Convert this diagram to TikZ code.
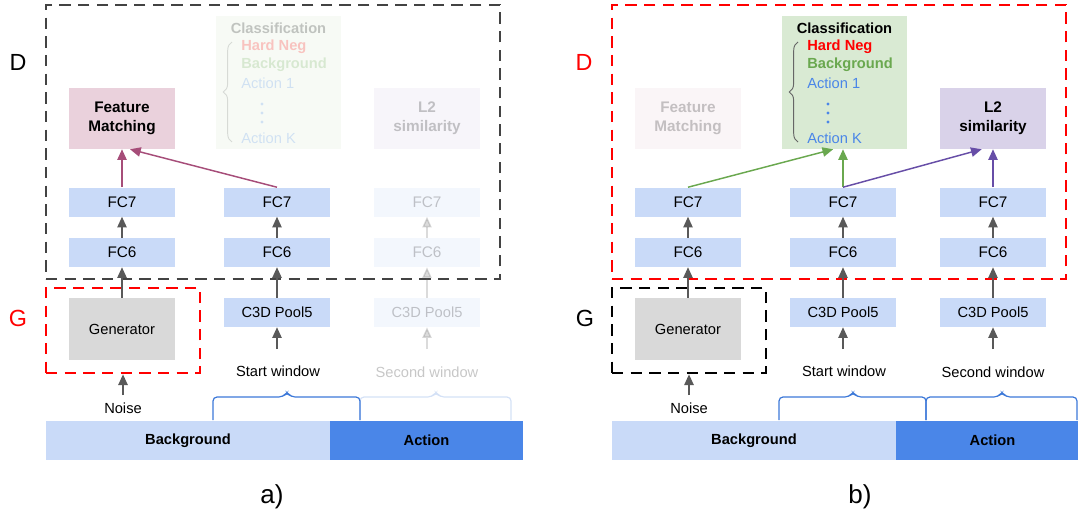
\documentclass[tikz,border=0pt]{standalone}
\usepackage{fontspec}
\setmainfont{Liberation Sans}
\usetikzlibrary{arrows.meta,decorations.pathreplacing}
\definecolor{fcblue}{HTML}{C9DAF8}
\definecolor{fmpink}{HTML}{EAD1DC}
\definecolor{fmarrow}{HTML}{A64D79}
\definecolor{clsgreen}{HTML}{D9EAD3}
\definecolor{grnarrow}{HTML}{6AA84F}
\definecolor{l2purple}{HTML}{D9D2E9}
\definecolor{purarrow}{HTML}{674EA7}
\definecolor{gengray}{HTML}{D9D9D9}
\definecolor{actblue}{HTML}{4A86E8}
\definecolor{txtblue}{HTML}{4A86E8}
\definecolor{bracecol}{HTML}{3C78D8}
\definecolor{arrgray}{HTML}{595959}
\definecolor{dashgray}{HTML}{434343}
\definecolor{hardred}{HTML}{FF0000}
\begin{document}
\begin{tikzpicture}[x=0.75pt,y=-0.75pt,
  box/.style={inner sep=0pt, align=center, text=black},
  fcbox/.style={box, fill=fcblue, minimum width=79.5pt, minimum height=21.75pt, font=\fontsize{11.5}{13}\selectfont},
  poolbox/.style={fcbox, font=\fontsize{11}{12}\selectfont},
  genbox/.style={box, fill=gengray, minimum width=79.5pt, minimum height=46.5pt, font=\fontsize{11}{12}\selectfont},
  headbox/.style={box, minimum width=79.5pt, minimum height=45.75pt, font=\bfseries\fontsize{11.5}{14.5}\selectfont},
  clsbox/.style={box, fill=clsgreen, minimum width=93.75pt, minimum height=99.75pt},
  bar/.style={box, minimum height=29.25pt, font=\bfseries\fontsize{11}{13}\selectfont},
  lbl/.style={inner sep=0pt, font=\fontsize{11}{12}\selectfont},
  big/.style={inner sep=0pt, font=\fontsize{17.5}{20}\selectfont},
  clstitle/.style={inner sep=0pt, font=\bfseries\fontsize{11}{13}\selectfont},
  clsitem/.style={inner sep=0pt, anchor=west, font=\fontsize{11}{13}\selectfont, text=txtblue},
  faded/.style={opacity=0.22},
  garrow/.style={draw=arrgray, line width=1.1pt, -{Triangle[length=8pt,width=7pt]}},
  carrow/.style={line width=1.1pt, -{Triangle[length=8pt,width=7pt]}},
  dboxD/.style={inner sep=0pt, line width=2pt, dash pattern=on 8.5pt off 5.5pt, minimum width=340.5pt, minimum height=205.5pt},
  dboxG/.style={inner sep=0pt, line width=2pt, dash pattern=on 8.5pt off 5.5pt, minimum width=115.5pt, minimum height=63.75pt},
  wbrace/.style={draw=bracecol, line width=0.9pt, rounded corners=3pt},
  cbrace/.style={draw=black!60, line width=0.7pt, decorate, decoration={brace, amplitude=6.5pt}},
  vdot/.style={circle, fill=txtblue, inner sep=0pt, minimum size=2.4pt},
]
\useasboundingbox (0,0) rectangle (1078,517);
\clip (0,0) rectangle (1078,517);

% ================= Panel a =================
\node[dboxD, draw=dashgray] (aD) at (273,142) {};
\node[dboxG, draw=hardred] (aG) at (123,330.5) {};
\node[big] (aDl) at (18,62) {D};
\node[big, text=hardred] (aGl) at (18,318) {G};

\node[clsbox, faded] (acls) at (278.5,82.5) {};
\node[clstitle, faded] (actitle) at (278.5,28) {Classification};
\node[clsitem, faded, text=hardred, font=\bfseries\fontsize{11}{13}\selectfont] (ac1) at (241,47) {Hard Neg};
\node[clsitem, faded, text=grnarrow, font=\bfseries\fontsize{11}{13}\selectfont] (ac2) at (241,65) {Background};
\node[clsitem, faded] (ac3) at (241,83) {Action 1};
\node[vdot, faded] (ad1) at (262,104) {};
\node[vdot, faded] (ad2) at (262,113) {};
\node[vdot, faded] (ad3) at (262,122) {};
\node[clsitem, faded] (ac4) at (241,138) {Action K};
\draw[cbrace, faded] (232,142) -- (232,42);

\node[headbox, fill=fmpink] (afm) at (122,118.5) {Feature\\Matching};
\node[headbox, fill=l2purple, faded] (al2) at (427,118.5) {L2\\similarity};

\node[fcbox] (a7l) at (122,202) {FC7};
\node[fcbox] (a7m) at (277,202) {FC7};
\node[fcbox, faded] (a7r) at (427,202) {FC7};
\node[fcbox] (a6l) at (122,252.5) {FC6};
\node[fcbox] (a6m) at (277,252.5) {FC6};
\node[fcbox, faded] (a6r) at (427,252.5) {FC6};
\node[genbox] (agen) at (122,329) {Generator};
\node[poolbox] (apm) at (277,312.5) {C3D Pool5};
\node[poolbox, faded] (apr) at (427,312.5) {C3D Pool5};

\node[lbl] (asw) at (278,371) {Start window};
\node[lbl, faded] (asw2) at (427,372) {Second window};
\node[lbl] (anoise) at (123,408) {Noise};
\coordinate (aswin) at (277,349);
\coordinate (asw2in) at (427,349);
\coordinate (anoin) at (123,395);

\node[bar, fill=fcblue, minimum width=213pt] (abg) at (188,440.5) {Background};
\node[bar, fill=actblue, minimum width=144.75pt] (aact) at (426.5,440.5) {Action};

\draw[wbrace] (213,420) -- (213,397) -- (283,397) -- (287,392) -- (291,397) -- (360,397) -- (360,420);
\draw[wbrace, faded] (360,420) -- (360,397) -- (432,397) -- (436,392) -- (440,397) -- (511,397) -- (511,420);

\draw[garrow] (a6l) -- (a7l);
\draw[garrow] (a6m) -- (a7m);
\draw[garrow, faded] (a6r) -- (a7r);
\draw[garrow] (agen) -- (a6l);
\draw[garrow] (apm) -- (a6m);
\draw[garrow, faded] (apr) -- (a6r);
\draw[garrow] (aswin) -- (apm);
\draw[garrow, faded] (asw2in) -- (apr);
\draw[garrow] (anoin) -- (aG.south);
\draw[carrow, draw=fmarrow] (a7l.north) -- (afm.south);
\draw[carrow, draw=fmarrow] (a7m.north) -- ([xshift=6pt]afm.south);

\node[big, font=\fontsize{19.5}{22}\selectfont] (alab) at (272,497) {a)};

% ================= Panel b =================
\node[dboxD, draw=hardred] (bD) at (839,142) {};
\node[dboxG, draw=black] (bG) at (689,330.5) {};
\node[big, text=hardred] (bDl) at (584,62) {D};
\node[big] (bGl) at (585,318) {G};

\node[clsbox] (bcls) at (844.5,82.5) {};
\node[clstitle] (bctitle) at (844.5,28) {Classification};
\node[clsitem, text=hardred, font=\bfseries\fontsize{11}{13}\selectfont] (bc1) at (807,47) {Hard Neg};
\node[clsitem, text=grnarrow, font=\bfseries\fontsize{11}{13}\selectfont] (bc2) at (807,65) {Background};
\node[clsitem] (bc3) at (807,83) {Action 1};
\node[vdot] (bd1) at (828,104) {};
\node[vdot] (bd2) at (828,113) {};
\node[vdot] (bd3) at (828,122) {};
\node[clsitem] (bc4) at (807,138) {Action K};
\draw[cbrace] (798,142) -- (798,42);

\node[headbox, fill=fmpink, faded] (bfm) at (688,118.5) {Feature\\Matching};
\node[headbox, fill=l2purple] (bl2) at (993,118.5) {L2\\similarity};

\node[fcbox] (b7l) at (688,202) {FC7};
\node[fcbox] (b7m) at (843,202) {FC7};
\node[fcbox] (b7r) at (993,202) {FC7};
\node[fcbox] (b6l) at (688,252.5) {FC6};
\node[fcbox] (b6m) at (843,252.5) {FC6};
\node[fcbox] (b6r) at (993,252.5) {FC6};
\node[genbox] (bgen) at (688,329) {Generator};
\node[poolbox] (bpm) at (843,312.5) {C3D Pool5};
\node[poolbox] (bpr) at (993,312.5) {C3D Pool5};

\node[lbl] (bsw) at (844,371) {Start window};
\node[lbl] (bsw2) at (993,372) {Second window};
\node[lbl] (bnoise) at (689,408) {Noise};
\coordinate (bswin) at (843,349);
\coordinate (bsw2in) at (993,349);
\coordinate (bnoin) at (689,395);

\node[bar, fill=fcblue, minimum width=213pt] (bbg) at (754,440.5) {Background};
\node[bar, fill=actblue, minimum width=144.75pt] (bact) at (992.5,440.5) {Action};

\draw[wbrace] (779,420) -- (779,397) -- (849,397) -- (853,392) -- (857,397) -- (926,397) -- (926,420);
\draw[wbrace] (926,420) -- (926,397) -- (998,397) -- (1002,392) -- (1006,397) -- (1077,397) -- (1077,420);

\draw[garrow] (b6l) -- (b7l);
\draw[garrow] (b6m) -- (b7m);
\draw[garrow] (b6r) -- (b7r);
\draw[garrow] (bgen) -- (b6l);
\draw[garrow] (bpm) -- (b6m);
\draw[garrow] (bpr) -- (b6r);
\draw[garrow] (bswin) -- (bpm);
\draw[garrow] (bsw2in) -- (bpr);
\draw[garrow] (bnoin) -- (bG.south);
\draw[carrow, draw=grnarrow] (b7l.north) -- ([xshift=-8.5pt]bcls.south);
\draw[carrow, draw=grnarrow] (b7m.north) -- (b7m.north |- bcls.south);
\draw[carrow, draw=purarrow] (b7m.north) -- ([xshift=-8.5pt]bl2.south);
\draw[carrow, draw=purarrow] (b7r.north) -- (bl2.south);

\node[big, font=\fontsize{19.5}{22}\selectfont] (blab) at (860,497) {b)};
\end{tikzpicture}
\end{document}
